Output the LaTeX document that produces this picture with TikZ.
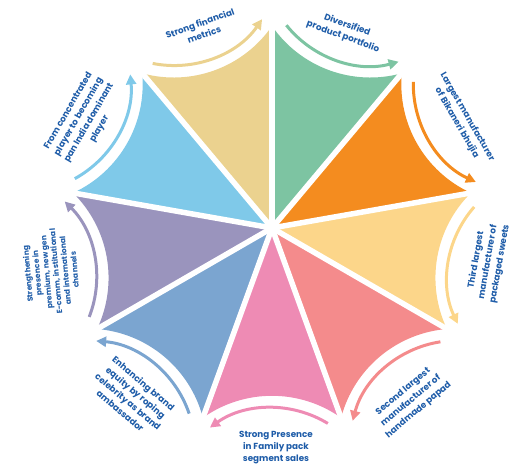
\documentclass[tikz,border=0pt]{standalone}
\usepackage{fontspec}
\setmainfont{Poppins}
\usetikzlibrary{calc,arrows.meta}
\definecolor{cGreen}{HTML}{7DC4A2}
\definecolor{cOrange}{HTML}{F48C1F}
\definecolor{cLtYellow}{HTML}{FCD68A}
\definecolor{cSalmon}{HTML}{F48B8C}
\definecolor{cPink}{HTML}{EE8BB4}
\definecolor{cBlue}{HTML}{7BA5D0}
\definecolor{cPurple}{HTML}{9A94BD}
\definecolor{cLtBlue}{HTML}{7FC9E9}
\definecolor{cYellow}{HTML}{EBD28F}
\definecolor{txtblue}{HTML}{1E5CA8}
\tikzset{
  arrowline/.style={line width=3pt, -{Triangle[length=10pt,width=10pt]}},
  gapline/.style={white, line width=5.5pt},
  lbl/.style={text=txtblue, align=center, inner sep=0pt,
    font=\bfseries\fontsize{8.8}{12}\selectfont},
  lblsmall/.style={lbl, font=\bfseries\fontsize{7.6}{9.4}\selectfont}
}
\begin{document}
\begin{tikzpicture}[x=1pt,y=1pt]
\useasboundingbox (0,0) rectangle (512,470);
\coordinate (C) at (272,242);
% concave petal geometry: outer edge is an arc of radius \Rho about a point
% at distance \Dq from the centre, spanning +-\Th degrees
\def\Rho{119.5}
\def\Dq{287.3}
\def\Th{35.3}
\def\Ra{107.5}
\foreach \k/\col in {0/cGreen,1/cOrange,2/cLtYellow,3/cSalmon,4/cPink,5/cBlue,6/cPurple,7/cLtBlue,8/cYellow}{
  \pgfmathsetmacro\m{70-40*\k}
  \pgfmathsetmacro\sa{\m+180-\Th}
  \pgfmathsetmacro\ea{\m+180+\Th}
  \coordinate (Q\k) at ($(C)+(\m:\Dq)$);
  \fill[\col] ($(Q\k)+(\sa:\Rho)$) arc[start angle=\sa, end angle=\ea, radius=\Rho] -- (C) -- cycle;
}
% white separators between petals
\foreach \k in {0,...,8}{
  \pgfmathsetmacro\v{90-40*\k}
  \coordinate (V\k) at ($(C)+(\v:212)$);
  \draw[gapline] (C) -- (V\k);
}
% clockwise arrows along each petal
\foreach \k/\col in {0/cGreen,1/cOrange,2/cLtYellow,3/cSalmon,4/cPink,5/cBlue,6/cPurple,7/cLtBlue,8/cYellow}{
  \pgfmathsetmacro\m{70-40*\k}
  \pgfmathsetmacro\sa{\m+180-\Th+4}
  \pgfmathsetmacro\ea{\m+180+\Th}
  \draw[arrowline, \col] ($(Q\k)+(\sa:\Ra)$) arc[start angle=\sa, end angle=\ea, radius=\Ra];
}
% labels
\node[lbl, rotate=20]  (lYellow)   at (202,441) {Strong financial\\metrics};
\node[lbl, rotate=-20] (lGreen)    at (345,439) {Diversified\\product portfolio};
\node[lbl, rotate=-60] (lOrange)   at (462,350) {Largest manufacturer\\of Bikaneri bhujia};
\node[lbl, rotate=80]  (lLtYellow) at (488,208) {Third largest\\manufacturer of\\packaged sweets};
\node[lbl, rotate=40]  (lSalmon)   at (411,69)  {Second largest\\manufacturer of\\handmade papad};
\node[lbl]             (lPink)     at (276,22)  {Strong Presence\\in Family pack\\segment sales};
\node[lbl, rotate=-40] (lBlue)     at (132,73)  {Enhancing brand\\equity by roping\\celebrity as brand\\ambassador};
\node[lblsmall, rotate=95] (lPurple) at (51,198) {Strengthening\\presence in\\premium, new gen\\E-comm, institutional\\and international\\channels};
\node[lbl, rotate=60]  (lLtBlue)   at (84,350)  {From concentrated\\player to becoming\\pan India dominant\\player};
\end{tikzpicture}
\end{document}
